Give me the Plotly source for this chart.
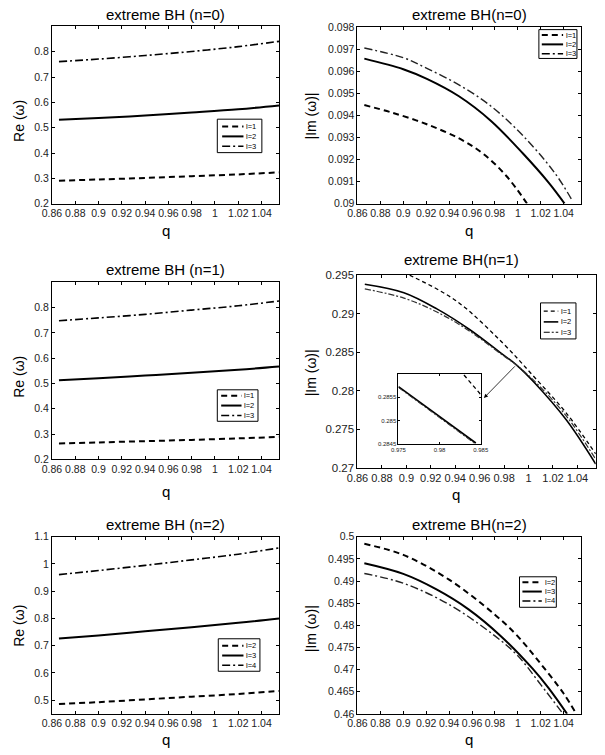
import plotly.graph_objects as go

W, H = 605, 755
FONT = "Liberation Sans, Arial, sans-serif"

# ---------------- data ----------------
# Left column: Re(omega) vs q
q_re = [0.866, 0.9, 0.94, 0.98, 1.02, 1.055]

re_n0_l1 = [0.291, 0.296, 0.302, 0.309, 0.316, 0.324]
re_n0_l2 = [0.532, 0.539, 0.548, 0.560, 0.573, 0.588]
re_n0_l3 = [0.761, 0.771, 0.785, 0.801, 0.820, 0.841]

re_n1_l1 = [0.263, 0.267, 0.272, 0.277, 0.283, 0.289]
re_n1_l2 = [0.513, 0.521, 0.531, 0.542, 0.554, 0.567]
re_n1_l3 = [0.748, 0.759, 0.773, 0.790, 0.807, 0.826]

re_n2_l2 = [0.486, 0.493, 0.503, 0.513, 0.523, 0.534]
re_n2_l3 = [0.727, 0.738, 0.753, 0.768, 0.784, 0.800]
re_n2_l4 = [0.961, 0.976, 0.995, 1.015, 1.036, 1.059]

# Right column: |Im(omega)| vs q
q_im_n0_l1 = [0.866, 0.89, 0.92, 0.95, 0.97, 0.99, 1.008]
im_n0_l1 = [0.09447, 0.09413, 0.09361, 0.09292, 0.09225, 0.09125, 0.0900]
q_im_n0_l2 = [0.866, 0.9, 0.9206, 0.9486, 0.9766, 1.0045, 1.0269, 1.0408]
im_n0_l2 = [0.09658, 0.09610, 0.09566, 0.09487, 0.09375, 0.09227, 0.09095, 0.0900]
q_im_n0_l3 = [0.866, 0.9, 0.9206, 0.9486, 0.9766, 1.0045, 1.0325, 1.0479]
im_n0_l3 = [0.09706, 0.09662, 0.09614, 0.09539, 0.09442, 0.09308, 0.09137, 0.0901]

q_im_n1_l1 = [0.866, 0.9023, 0.9411, 0.9781, 1.0045, 1.0309, 1.055]
im_n1_l1 = [0.2975, 0.2950, 0.2916, 0.2863, 0.2818, 0.2771, 0.2718]
q_im_n1 = [0.866, 0.898, 0.925, 0.952, 0.978, 0.99, 1.0045, 1.031, 1.055]
im_n1_l2 = [0.2938, 0.2927, 0.2906, 0.2879, 0.2848, 0.28335, 0.2811, 0.2762, 0.2705]
im_n1_l3 = [0.2932, 0.2920, 0.2902, 0.2877, 0.2847, 0.28335, 0.2813, 0.2767, 0.2711]

# inset (zoom of the n=1 panel)
q_inset_l1 = [0.98296, 0.985]
inset_l1 = [0.28598, 0.28556]
q_inset = [0.975, 0.9844]
inset_l2 = [0.28573, 0.28452]
inset_l3 = [0.28571, 0.28449]

q_im_n2_l2 = [0.866, 0.9, 0.94, 0.98, 1.0, 1.02, 1.04, 1.0506]
im_n2_l2 = [0.4984, 0.4959, 0.4903, 0.4824, 0.4775, 0.4713, 0.4646, 0.4602]
q_im_n2_l3 = [0.866, 0.9, 0.929, 0.957, 0.985, 1.0129, 1.0269, 1.043]
im_n2_l3 = [0.4940, 0.4916, 0.4881, 0.4836, 0.4776, 0.4702, 0.4658, 0.4600]
q_im_n2_l4 = [0.866, 0.9, 0.94, 0.98, 1.0, 1.02, 1.0395]
im_n2_l4 = [0.4917, 0.4895, 0.4847, 0.4776, 0.4731, 0.4666, 0.4600]

x_tickvals = [0.86, 0.88, 0.90, 0.92, 0.94, 0.96, 0.98, 1.00, 1.02, 1.04]
x_ticktext = ["0.86", "0.88", "0.9", "0.92", "0.94", "0.96", "0.98", "1", "1.02", "1.04"]

y1_ticks = [0.2, 0.3, 0.4, 0.5, 0.6, 0.7, 0.8]
y1_text = ["0.2", "0.3", "0.4", "0.5", "0.6", "0.7", "0.8"]
y2_ticks = [0.090, 0.091, 0.092, 0.093, 0.094, 0.095, 0.096, 0.097, 0.098]
y2_text = ["0.09", "0.091", "0.092", "0.093", "0.094", "0.095", "0.096", "0.097", "0.098"]
y4_ticks = [0.27, 0.275, 0.28, 0.285, 0.29, 0.295]
y4_text = ["0.27", "0.275", "0.28", "0.285", "0.29", "0.295"]
y5_ticks = [0.5, 0.6, 0.7, 0.8, 0.9, 1.0, 1.1]
y5_text = ["0.5", "0.6", "0.7", "0.8", "0.9", "1", "1.1"]
y6_ticks = [0.46, 0.465, 0.47, 0.475, 0.48, 0.485, 0.49, 0.495, 0.5]
y6_text = ["0.46", "0.465", "0.47", "0.475", "0.48", "0.485", "0.49", "0.495", "0.5"]
inset_xticks = [0.975, 0.98, 0.985]
inset_xtext = ["0.975", "0.98", "0.985"]
inset_yticks = [0.2845, 0.285, 0.2855]
inset_ytext = ["0.2845", "0.285", "0.2855"]

legend_l123 = ["l=1", "l=2", "l=3"]
legend_l234 = ["l=2", "l=3", "l=4"]

# ---------------- helpers ----------------
def dx(a, b):
    return [a / W, b / W]

def dy(top, bottom):
    return [1 - bottom / H, 1 - top / H]

DASH = "6px,4px"
DASHDOT = "8px,3px,2px,3px"
FDASH = "4px,3px"
FDASHDOT = "6px,2px,2px,2px"

fig = go.Figure()

def add(x, y, ax, name, dash, width, color="black"):
    fig.add_trace(go.Scatter(
        x=x, y=y, mode="lines", name=name,
        line=dict(color=color, width=width, dash=dash, shape="spline", smoothing=1.0),
        xaxis="x" + ("" if ax == 1 else str(ax)),
        yaxis="y" + ("" if ax == 1 else str(ax)),
        showlegend=False, hoverinfo="skip"))

# panel 1
add(q_re, re_n0_l1, 1, legend_l123[0], DASH, 2)
add(q_re, re_n0_l2, 1, legend_l123[1], "solid", 2)
add(q_re, re_n0_l3, 1, legend_l123[2], DASHDOT, 1.6)
# panel 2
add(q_im_n0_l1, im_n0_l1, 2, legend_l123[0], DASH, 2)
add(q_im_n0_l2, im_n0_l2, 2, legend_l123[1], "solid", 2)
add(q_im_n0_l3, im_n0_l3, 2, legend_l123[2], DASHDOT, 1.4, "#222")
# panel 3
add(q_re, re_n1_l1, 3, legend_l123[0], DASH, 2)
add(q_re, re_n1_l2, 3, legend_l123[1], "solid", 2)
add(q_re, re_n1_l3, 3, legend_l123[2], DASHDOT, 1.6)
# panel 4
add(q_im_n1_l1, im_n1_l1, 4, legend_l123[0], FDASH, 1.3)
add(q_im_n1, im_n1_l2, 4, legend_l123[1], "solid", 1.6)
add(q_im_n1, im_n1_l3, 4, legend_l123[2], FDASHDOT, 1.2, "#333")
# inset
add(q_inset_l1, inset_l1, 7, legend_l123[0], FDASH, 1.3)
add(q_inset, inset_l2, 7, legend_l123[1], "solid", 1.6)
add(q_inset, inset_l3, 7, legend_l123[2], FDASHDOT, 1.0, "#333")
# panel 5
add(q_re, re_n2_l2, 5, legend_l234[0], DASH, 2)
add(q_re, re_n2_l3, 5, legend_l234[1], "solid", 2)
add(q_re, re_n2_l4, 5, legend_l234[2], DASHDOT, 1.6)
# panel 6
add(q_im_n2_l2, im_n2_l2, 6, legend_l234[0], DASH, 2)
add(q_im_n2_l3, im_n2_l3, 6, legend_l234[1], "solid", 2)
add(q_im_n2_l4, im_n2_l4, 6, legend_l234[2], DASHDOT, 1.4, "#222")

def axis(domain, rng, tv, tt, anchor, size=10.5):
    return dict(domain=domain, range=rng, tickvals=tv, ticktext=tt, anchor=anchor,
                ticks="inside", ticklen=3, tickwidth=0.8, tickcolor="black",
                mirror="allticks", showline=True, linewidth=1, linecolor="black",
                showgrid=False, zeroline=False, tickangle=0,
                tickfont=dict(family=FONT, size=size, color="#222"))

XR = [0.86, 1.055]
L = dx(42.3, 276.7)
R = dx(357.7, 588.3)
R4 = dx(357.7, 603.7)

layout = dict(
    width=W, height=H, margin=dict(l=0, r=0, t=0, b=0),
    paper_bgcolor="white", plot_bgcolor="white", showlegend=False,
    font=dict(family=FONT, color="black"),
    xaxis=axis(L, XR, x_tickvals, x_ticktext, "y"),
    yaxis=axis(dy(20.7, 201), [0.2, 0.9], y1_ticks, y1_text, "x"),
    xaxis2=axis(R, XR, x_tickvals, x_ticktext, "y2"),
    yaxis2=axis(dy(21.7, 200.7), [0.09, 0.098], y2_ticks, y2_text, "x2"),
    xaxis3=axis(L, XR, x_tickvals, x_ticktext, "y3"),
    yaxis3=axis(dy(280.7, 460.7), [0.2, 0.9], y1_ticks, y1_text, "x3"),
    xaxis4=axis(R4, XR, x_tickvals, x_ticktext, "y4", size=11),
    yaxis4=axis(dy(273.3, 469.3), [0.27, 0.295], y4_ticks, y4_text, "x4", size=11.5),
    xaxis5=axis(L, XR, x_tickvals, x_ticktext, "y5"),
    yaxis5=axis(dy(539.3, 719.3), [0.45, 1.1], y5_ticks, y5_text, "x5"),
    xaxis6=axis(R, XR, x_tickvals, x_ticktext, "y6"),
    yaxis6=axis(dy(539.3, 719.3), [0.46, 0.5], y6_ticks, y6_text, "x6"),
    xaxis7=axis(dx(400, 485), [0.975, 0.985], inset_xticks, inset_xtext, "y7", size=6),
    yaxis7=axis(dy(374, 445), [0.2845, 0.286], inset_yticks, inset_ytext, "x7", size=6),
)
layout["xaxis7"]["ticklen"] = 2
layout["yaxis7"]["ticklen"] = 2
fig.update_layout(**layout)

def text(x, y, s, size, angle=0, anchor="center"):
    fig.add_annotation(x=x / W, y=1 - y / H, xref="paper", yref="paper", text=s,
                       showarrow=False, textangle=angle, xanchor=anchor, yanchor="middle",
                       font=dict(family=FONT, size=size, color="black"))

# compact framed legends (box, line samples, labels)
def legend_box(box, x0, x1, xt, rows, names, styles):
    l, t, r, b = box
    fig.add_shape(type="rect", xref="paper", yref="paper",
                  x0=l / W, x1=r / W, y0=1 - b / H, y1=1 - t / H,
                  line=dict(color="black", width=1), fillcolor="white", layer="above")
    for yy, nm, (dsh, wd) in zip(rows, names, styles):
        fig.add_shape(type="line", xref="paper", yref="paper",
                      x0=x0 / W, x1=x1 / W, y0=1 - yy / H, y1=1 - yy / H,
                      line=dict(color="black", width=wd, dash=dsh), layer="above")
        text(xt, yy, nm, 7.5, anchor="left")

STY = [(DASH, 2), ("solid", 2), (DASHDOT, 1.5)]
STY4 = [(FDASH, 1.3), ("solid", 1.6), (FDASHDOT, 1.2)]
legend_box((213, 115, 259, 149), 218, 240, 241, [122.5, 132.5, 142.5], legend_l123, STY)
legend_box((545, 24, 584.3, 53.3), 548, 570, 571, [29.5, 39, 48.5], legend_l123, STY)
legend_box((213, 390, 255, 422), 217, 238, 239, [396, 406, 416], legend_l123, STY)
legend_box((546.7, 301.7, 583.3, 338.3), 550, 565, 566, [310, 321, 331.5], legend_l123, STY4)
legend_box((214, 643, 257, 676), 218, 240, 241, [650, 660, 670], legend_l234, STY)
legend_box((525, 580, 563, 611), 528, 548, 549, [585.5, 595, 604.5], legend_l234, STY)

# titles
text(160, 9, "extreme BH (n=0)", 15)
text(473, 9, "extreme BH(n=0)", 15)
text(160, 268, "extreme BH (n=1)", 15)
text(465, 258, "extreme BH(n=1)", 15)
text(160, 527, "extreme BH (n=2)", 15)
text(473, 527, "extreme BH(n=2)", 15)
# x labels
for (xx, yy) in [(160, 228), (473, 228), (160, 493), (459, 496), (160, 745), (473, 745)]:
    text(xx, yy, "q", 15)
# y labels
text(8, 117, "Re (ω)", 14, -90)
text(8, 377, "Re (ω)", 14, -90)
text(8, 630, "Re (ω)", 14, -90)
text(310, 112, "|Im (ω)|", 14, -90)
text(310, 373, "|Im (ω)|", 14, -90)
text(310, 633, "|Im (ω)|", 14, -90)

# arrow from the main curve to the inset
fig.add_annotation(x=0.9635, y=0.27906, ax=0.99, ay=0.28335, xref="x4", yref="y4",
                   axref="x4", ayref="y4", text="", showarrow=True,
                   arrowhead=2, arrowsize=1, arrowwidth=0.8, arrowcolor="black")

fig.write_html("out.html", config={"displayModeBar": False},
               post_script="document.body.style.margin='0';document.body.style.overflow='hidden';")
